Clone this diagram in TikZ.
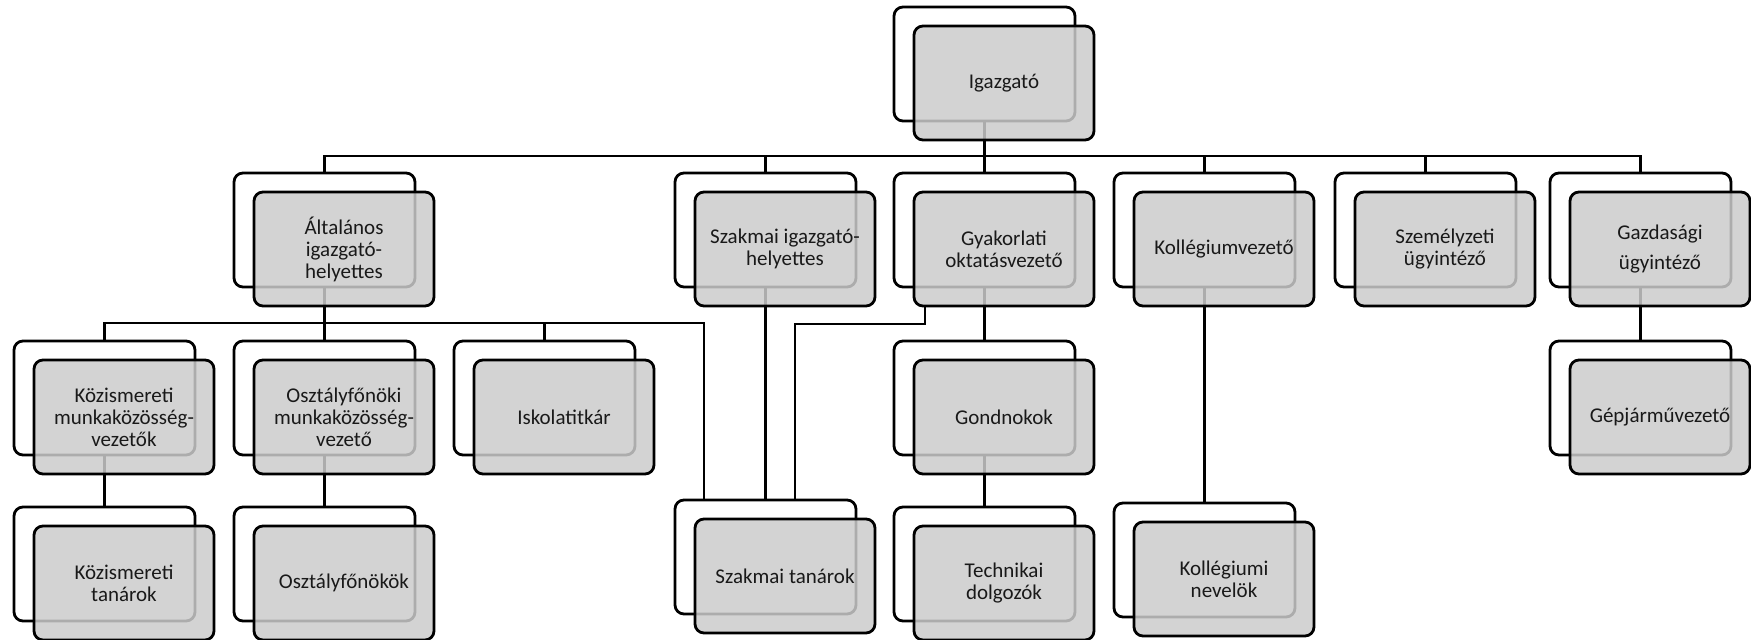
\documentclass[tikz,border=0pt]{standalone}
\usepackage{fontspec}
\setmainfont{Carlito}
\usetikzlibrary{calc}
\definecolor{boxgray}{RGB}{203,203,203}
\pgfdeclarelayer{bg}
\pgfsetlayers{bg,main}
\tikzset{
  backbox/.style={draw=black, line width=1.4pt, rounded corners=4.5pt,
    minimum width=90.5pt, minimum height=57pt, anchor=north west,
    inner sep=0pt, outer sep=0pt},
  frontbox/.style={draw=black, line width=1.4pt, rounded corners=4.5pt,
    fill=boxgray, fill opacity=0.85, text opacity=1,
    minimum width=90pt, minimum height=57pt, anchor=north west,
    align=center, font=\fontsize{10.5}{11}\selectfont,
    inner sep=2pt, outer sep=0pt, text=black!90},
  conn/.style={draw=black, line width=1.25pt}
}
\newcommand{\pairbox}[4]{%
  \node[backbox] (#1b) at (#2,#3) {};
  \node[frontbox] (#1) at (#2+20,#3+19) {#4};}
\begin{document}
\begin{tikzpicture}[x=0.5pt,y=-0.5pt]
\useasboundingbox (0,0) rectangle (1751,640);
% level 0
\pairbox{ig}{894}{7}{Igazgató}
% level 1
\pairbox{alt}{234}{173}{Általános\\igazgató-\\helyettes}
\pairbox{sz}{675}{173}{Szakmai igazgató-\\helyettes}
\pairbox{gy}{894}{173}{Gyakorlati\\oktatásvezető}
\pairbox{kv}{1114}{173}{Kollégiumvezető}
\pairbox{se}{1335}{173}{Személyzeti\\ügyintéző}
\pairbox{gz}{1550}{173}{Gazdasági\\[4pt]ügyintéző}
% level 2
\pairbox{km}{14}{341}{Közismereti\\munkaközösség-\\vezetők}
\pairbox{om}{234}{341}{Osztályfőnöki\\munkaközösség-\\vezető}
\pairbox{is}{454}{341}{Iskolatitkár}
\pairbox{go}{894}{341}{Gondnokok}
\pairbox{gj}{1550}{341}{Gépjárművezető}
% level 3
\pairbox{kt}{14}{507}{Közismereti\\tanárok}
\pairbox{of}{234}{507}{Osztályfőnökök}
\pairbox{st}{675}{500}{Szakmai tanárok}
\pairbox{td}{894}{507}{Technikai\\dolgozók}
\pairbox{kn}{1114}{503}{Kollégiumi\\nevelök}
% connectors
\coordinate (bus1) at (0,156);
\coordinate (bus2) at (0,323);
\coordinate (altst) at (704,323);
\coordinate (gyst) at (795,324);
\begin{pgfonlayer}{bg}
\draw[conn] (igb.south) -- (igb.south |- bus1);
\draw[conn] (altb.north) -- (altb.north |- bus1) -- (gzb.north |- bus1) -- (gzb.north);
\foreach \n in {szb,gyb,kvb,seb}{\draw[conn] (\n.north) -- (\n.north |- bus1);}
\draw[conn] (altb.south) -- (altb.south |- bus2);
\draw[conn] (kmb.north) -- (kmb.north |- bus2) -- (altst) -- (altst |- stb.north);
\foreach \n in {omb,isb}{\draw[conn] (\n.north) -- (\n.north |- bus2);}
\draw[conn] (kmb.south) -- (ktb.north);
\draw[conn] (omb.south) -- (ofb.north);
\draw[conn] (szb.south) -- (stb.north);
\draw[conn] ([xshift=5.5pt]gy.south west) |- (gyst) -- (gyst |- stb.north);
\draw[conn] (gyb.south) -- (gob.north);
\draw[conn] (gob.south) -- (tdb.north);
\draw[conn] (kvb.south) -- (knb.north);
\draw[conn] (gzb.south) -- (gjb.north);
\end{pgfonlayer}
\end{tikzpicture}
\end{document}
